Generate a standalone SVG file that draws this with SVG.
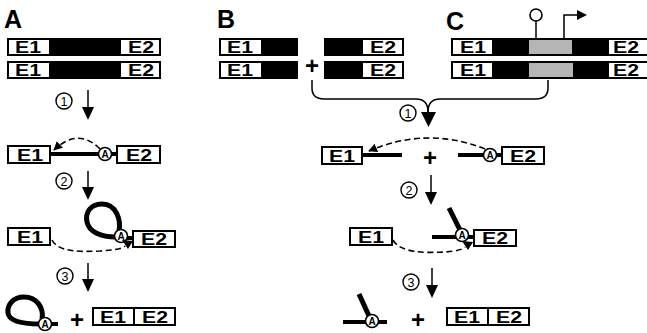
<svg xmlns="http://www.w3.org/2000/svg" width="647" height="333" viewBox="0 0 647 333">
<defs>
<style>
.lbl{font-family:"Liberation Sans",Arial,sans-serif;font-weight:bold;font-size:25px;fill:#000}
.ex{font-family:"Liberation Sans",Arial,sans-serif;font-weight:bold;font-size:16px;fill:#000;text-anchor:middle}
.num{font-family:"Liberation Sans",Arial,sans-serif;font-size:12.5px;fill:#000;text-anchor:middle}
.an{font-family:"Liberation Sans",Arial,sans-serif;font-weight:bold;font-size:10px;fill:#000;text-anchor:middle}
.plus{font-family:"Liberation Sans",Arial,sans-serif;font-weight:bold;font-size:24px;fill:#000;text-anchor:middle}
.wb{fill:#fff;stroke:#000;stroke-width:2}
.bk{fill:#000;stroke:#000;stroke-width:2}
.gr{fill:#b5b5b5}
.thick{stroke:#000;stroke-width:5;fill:none}
.thin{stroke:#000;stroke-width:1.5;fill:none}
.dash{stroke:#000;stroke-width:1.6;fill:none;stroke-dasharray:6 3.5}
.cn{fill:#fff;stroke:#000;stroke-width:1.4}
.ac{fill:#fff;stroke:#000;stroke-width:1.6}
</style>
<marker id="ah" viewBox="0 0 10 10" refX="9" refY="5" markerWidth="9" markerHeight="9" orient="auto" markerUnits="userSpaceOnUse">
<path d="M0,0 L10,5 L0,10 z" fill="#000"/>
</marker>
</defs>
<rect width="647" height="333" fill="#fff"/>

<g id="labels">
<text class="lbl" x="4" y="28">A</text>
<text class="lbl" x="217" y="28">B</text>
<text class="lbl" x="446" y="30">C</text>
</g>

<!-- Panel A top rows -->
<g id="A-row1">
<rect class="bk" x="8" y="39" width="152" height="16"/>
<rect class="wb" x="8" y="39" width="42" height="16"/>
<rect class="wb" x="120" y="39" width="40" height="16"/>
<text class="ex" x="28" y="53" textLength="26" lengthAdjust="spacingAndGlyphs">E1</text>
<text class="ex" x="141" y="53" textLength="26" lengthAdjust="spacingAndGlyphs">E2</text>
</g>
<g id="A-row2">
<rect class="bk" x="8" y="62" width="152" height="16"/>
<rect class="wb" x="8" y="62" width="42" height="16"/>
<rect class="wb" x="120" y="62" width="40" height="16"/>
<text class="ex" x="28" y="76" textLength="26" lengthAdjust="spacingAndGlyphs">E1</text>
<text class="ex" x="141" y="76" textLength="26" lengthAdjust="spacingAndGlyphs">E2</text>
</g>

<!-- Panel B top rows -->
<g id="B-left1">
<rect class="bk" x="220" y="39" width="77" height="16"/>
<rect class="wb" x="220" y="39" width="42" height="16"/>
<text class="ex" x="240" y="53" textLength="26" lengthAdjust="spacingAndGlyphs">E1</text>
</g>
<g id="B-left2">
<rect class="bk" x="220" y="62" width="77" height="16"/>
<rect class="wb" x="220" y="62" width="42" height="16"/>
<text class="ex" x="240" y="76" textLength="26" lengthAdjust="spacingAndGlyphs">E1</text>
</g>
<g id="B-plus"><text class="plus" x="312" y="74">+</text></g>
<g id="B-right1">
<rect class="bk" x="325" y="39" width="78" height="16"/>
<rect class="wb" x="362" y="39" width="41" height="16"/>
<text class="ex" x="383" y="53" textLength="26" lengthAdjust="spacingAndGlyphs">E2</text>
</g>
<g id="B-right2">
<rect class="bk" x="325" y="62" width="78" height="16"/>
<rect class="wb" x="362" y="62" width="41" height="16"/>
<text class="ex" x="383" y="76" textLength="26" lengthAdjust="spacingAndGlyphs">E2</text>
</g>

<!-- Panel C top rows -->
<g id="C-row1">
<rect class="bk" x="452" y="39" width="197" height="16"/>
<rect class="gr" x="529" y="40" width="43" height="14"/>
<rect class="wb" x="452" y="39" width="41" height="16"/>
<rect class="wb" x="608" y="39" width="41" height="16"/>
<text class="ex" x="473" y="53" textLength="26" lengthAdjust="spacingAndGlyphs">E1</text>
<text class="ex" x="626" y="53" textLength="26" lengthAdjust="spacingAndGlyphs">E2</text>
</g>
<g id="C-row2">
<rect class="bk" x="452" y="62" width="197" height="16"/>
<rect class="gr" x="529" y="63" width="44" height="14"/>
<rect class="wb" x="452" y="62" width="41" height="16"/>
<rect class="wb" x="608" y="62" width="41" height="16"/>
<text class="ex" x="473" y="76" textLength="26" lengthAdjust="spacingAndGlyphs">E1</text>
<text class="ex" x="626" y="76" textLength="26" lengthAdjust="spacingAndGlyphs">E2</text>
</g>
<g id="C-lollipop">
<line class="thin" x1="536" y1="39" x2="536" y2="21"/>
<circle class="ac" cx="536" cy="15" r="6"/>
</g>
<g id="C-promoter">
<path class="thin" d="M564,39 V15 H578"/>
<path d="M577,10 L587,15 L577,20 z" fill="#000"/>
</g>

<!-- Panel A steps -->
<g id="A-step1">
<line class="thick" x1="50" y1="154" x2="117" y2="154" style="stroke-width:4"/>
<rect class="wb" x="8" y="146" width="42" height="17"/>
<rect class="wb" x="117" y="146" width="43" height="17"/>
<text class="ex" x="30" y="161" textLength="26" lengthAdjust="spacingAndGlyphs">E1</text>
<text class="ex" x="139" y="161" textLength="26" lengthAdjust="spacingAndGlyphs">E2</text>
<circle class="ac" cx="105" cy="154" r="6.5"/>
<text class="an" x="105" y="157.5">A</text>
</g>
<g id="A-step2">
<path class="thick" d="M119,231 C121,221 117,204 102,204 C90,204 85,213 87,222 C89,232 101,237 116,237"/>
<line class="thick" x1="125" y1="238" x2="134" y2="238" style="stroke-width:4"/>
<rect class="wb" x="8" y="228" width="42" height="17"/>
<rect class="wb" x="133" y="231" width="42" height="16"/>
<text class="ex" x="30" y="243" textLength="26" lengthAdjust="spacingAndGlyphs">E1</text>
<text class="ex" x="154" y="245" textLength="26" lengthAdjust="spacingAndGlyphs">E2</text>
<circle class="ac" cx="121" cy="236" r="6.5"/>
<text class="an" x="121" y="239.5">A</text>
</g>
<g id="A-products">
<path class="thick" d="M42,319 C44,308 37,297 24,297 C13,297 7,305 8,313 C9,321 22,324 40,324"/>
<line class="thick" x1="50" y1="324" x2="58" y2="324" style="stroke-width:4"/>
<circle class="ac" cx="45" cy="324" r="6.5"/>
<text class="an" x="45" y="327.5">A</text>
<text class="plus" x="77" y="328">+</text>
<rect class="wb" x="93" y="308" width="82" height="17"/>
<line x1="134" y1="308" x2="134" y2="325" stroke="#000" stroke-width="2"/>
<text class="ex" x="113" y="323" textLength="26" lengthAdjust="spacingAndGlyphs">E1</text>
<text class="ex" x="155" y="323" textLength="26" lengthAdjust="spacingAndGlyphs">E2</text>
</g>

<!-- Panel B/C steps -->
<g id="B-step1">
<line class="thick" x1="362" y1="155" x2="402" y2="155" style="stroke-width:4"/>
<text class="plus" x="430" y="166">+</text>
<line class="thick" x1="458" y1="155" x2="502" y2="155" style="stroke-width:4"/>
<rect class="wb" x="322" y="147" width="40" height="17"/>
<rect class="wb" x="502" y="147" width="42" height="17"/>
<text class="ex" x="342" y="162" textLength="26" lengthAdjust="spacingAndGlyphs">E1</text>
<text class="ex" x="523" y="162" textLength="26" lengthAdjust="spacingAndGlyphs">E2</text>
<circle class="ac" cx="490" cy="155" r="6.5"/>
<text class="an" x="490" y="158.5">A</text>
</g>
<g id="B-step2">
<line class="thick" x1="449" y1="208" x2="460" y2="230"/>
<line class="thick" x1="432" y1="237" x2="475" y2="237" style="stroke-width:4"/>
<rect class="wb" x="350" y="228" width="42" height="17"/>
<rect class="wb" x="474" y="230" width="42" height="16"/>
<text class="ex" x="371" y="243" textLength="26" lengthAdjust="spacingAndGlyphs">E1</text>
<text class="ex" x="495" y="244" textLength="26" lengthAdjust="spacingAndGlyphs">E2</text>
<circle class="ac" cx="462" cy="235" r="6.5"/>
<text class="an" x="462" y="238.5">A</text>
</g>
<g id="B-products">
<line class="thick" x1="359" y1="294" x2="369" y2="316"/>
<line class="thick" x1="343" y1="322" x2="387" y2="322" style="stroke-width:4"/>
<circle class="ac" cx="372" cy="321" r="6.5"/>
<text class="an" x="372" y="324.5">A</text>
<text class="plus" x="418" y="328">+</text>
<rect class="wb" x="447" y="308" width="82" height="17"/>
<line x1="488" y1="308" x2="488" y2="325" stroke="#000" stroke-width="2"/>
<text class="ex" x="467" y="323" textLength="26" lengthAdjust="spacingAndGlyphs">E1</text>
<text class="ex" x="509" y="323" textLength="26" lengthAdjust="spacingAndGlyphs">E2</text>
</g>

<g id="connectors">
<!-- step number circles -->
<circle class="cn" cx="64" cy="101" r="8"/><text class="num" x="64" y="105.5">1</text>
<circle class="cn" cx="64" cy="181" r="8"/><text class="num" x="64" y="185.5">2</text>
<circle class="cn" cx="65" cy="276" r="8"/><text class="num" x="65" y="280.5">3</text>
<circle class="cn" cx="408" cy="113" r="8"/><text class="num" x="408" y="117.5">1</text>
<circle class="cn" cx="409" cy="190" r="8"/><text class="num" x="409" y="194.5">2</text>
<circle class="cn" cx="411" cy="282" r="8"/><text class="num" x="411" y="286.5">3</text>
<!-- vertical arrows -->
<line class="thin" x1="88" y1="90" x2="88" y2="108"/><path d="M82,107 L94,107 L88,120 z"/>
<line class="thin" x1="88" y1="171" x2="88" y2="188"/><path d="M82,187 L94,187 L88,200 z"/>
<line class="thin" x1="88" y1="263" x2="88" y2="280"/><path d="M82,279 L94,279 L88,292 z"/>
<line class="thin" x1="431" y1="175" x2="431" y2="193"/><path d="M425,192 L437,192 L431,205 z"/>
<line class="thin" x1="432" y1="268" x2="432" y2="286"/><path d="M426,285 L438,285 L432,298 z"/>
<!-- bracket B+C -->
<path class="thin" d="M312,80 V88 Q312,99 324,99 H416 Q428,99 428,112"/>
<path class="thin" d="M548,80 V88 Q548,99 536,99 H440 Q428,99 428,112"/>
<path d="M421,112 L436,112 L428.5,127 z"/>
<!-- dashed splicing arcs -->
<path class="dash" d="M100,149 Q78,127 54,150" marker-end="url(#ah)"/>
<path class="dash" d="M52,240 C58,252 80,252 100,251 C114,250 122,249 125,246"/>
<path d="M122,240 L133,241 L128,249 z"/>
<path class="dash" d="M485,149 Q427,126 369,151" marker-end="url(#ah)"/>
<path class="dash" d="M393,240 C400,253 425,253 445,252 C456,251 462,250 465,247"/>
<path d="M462,241 L473,242 L468,250 z"/>
</g>
</svg>
